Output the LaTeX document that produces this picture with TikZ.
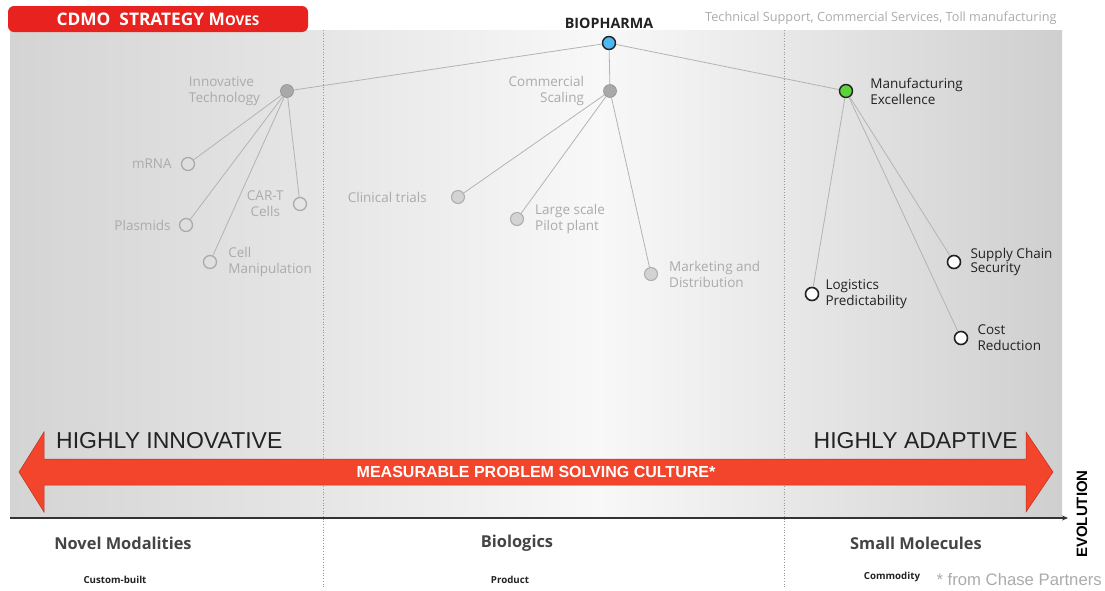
\documentclass[tikz,border=0pt]{standalone}
\usepackage{fontspec}
\setmainfont{Open Sans}
\newfontfamily\arialfont{Liberation Sans}
\usetikzlibrary{positioning,arrows.meta}

\definecolor{cdmored}{HTML}{E8231F}
\definecolor{arrowred}{HTML}{F3452B}
\definecolor{labelgray}{HTML}{ABABAB}
\definecolor{linegray}{HTML}{B3B3B3}
\definecolor{hubgray}{HTML}{A9A9A9}
\definecolor{leafgray}{HTML}{D3D3D3}
\definecolor{darktext}{HTML}{222222}
\definecolor{biotext}{HTML}{444444}
\definecolor{bioblue}{HTML}{4DB8F2}
\definecolor{mfggreen}{HTML}{5BD43C}
\definecolor{axisgray}{HTML}{333333}
\definecolor{panelA}{HTML}{D4D4D4}
\definecolor{panelB}{HTML}{E6E6E6}
\definecolor{panelC}{HTML}{F8F8F8}
\definecolor{panelD}{HTML}{E8E8E8}
\definecolor{panelE}{HTML}{CFCFCF}

\pgfdeclarehorizontalshading{panelshade}{100bp}{%
  color(0bp)=(panelA); color(25bp)=(panelA); color(39.9bp)=(panelB);
  color(53bp)=(panelC); color(61.8bp)=(panelD); color(75bp)=(panelE);
  color(100bp)=(panelE)}

\tikzset{
  lbl/.style={text=labelgray, font=\fontsize{13.5}{16}\selectfont, inner sep=0pt},
  darklbl/.style={lbl, text=darktext},
  edge/.style={draw=linegray, line width=0.8pt},
  dot/.style={circle, minimum size=13pt, inner sep=0pt},
  hubdot/.style={dot, fill=hubgray, draw=hubgray!85!black, line width=0.6pt},
  innleaf/.style={dot, draw=labelgray, line width=1.3pt},
  commleaf/.style={dot, fill=leafgray, draw=labelgray, line width=1pt},
  mfgleaf/.style={dot, fill=white, draw=darktext, line width=1.6pt},
  colhead/.style={font=\fontsize{16.4}{18}\selectfont\bfseries, text=biotext},
  coltag/.style={font=\fontsize{9.7}{11}\selectfont\bfseries, text=darktext},
  divider/.style={draw=gray!80, dotted, line width=0.7pt},
  bigtag/.style={font=\arialfont\fontsize{23}{26}\selectfont, text=darktext, inner sep=0pt}
}

\begin{document}
\begin{tikzpicture}[x=1pt,y=-1pt]
  \useasboundingbox (0,0) rectangle (1105,590);

  % panel and dividers
  \shade[shading=panelshade] (10,30) rectangle (1062,516);
  \draw[divider] (323,30) -- (323,588);
  \draw[divider] (784,30) -- (784,588);

  % title box
  \node[fill=cdmored, rounded corners=6pt, minimum width=300pt, minimum height=26pt,
        text=white, font=\fontsize{17.3}{19}\selectfont\bfseries] (title) at (158,19)
        {CDMO\ \ STRATEGY M{\fontsize{13.5}{15}\selectfont OVES}};

  % tree
  \node[dot, fill=bioblue, draw=darktext, line width=1.4pt] (bio) at (609,43) {};
  \node[font=\fontsize{14.3}{16}\selectfont\bfseries, text=darktext, above=4pt of bio] (biolbl) {BIOPHARMA};
  \node[lbl, font=\fontsize{12.7}{14}\selectfont, anchor=west] (services) at (705,18)
        {Technical Support, Commercial Services, Toll manufacturing};

  \node[hubdot] (innov) at (287,91) {};
  \node[hubdot] (comm) at (610,91) {};
  \node[dot, fill=mfggreen, draw=darktext, line width=1.4pt] (mfg) at (846,91) {};

  \node[innleaf] (mrna) at (188,164) {};
  \node[innleaf] (plasmids) at (186,225) {};
  \node[innleaf] (cellman) at (210,262) {};
  \node[innleaf] (cart) at (300,204) {};

  \node[commleaf] (clinical) at (458,197) {};
  \node[commleaf] (pilot) at (517,219) {};
  \node[commleaf] (mkt) at (651,274) {};

  \node[mfgleaf] (logis) at (812,294) {};
  \node[mfgleaf] (supply) at (954,262) {};
  \node[mfgleaf] (cost) at (961,338) {};

  \foreach \h in {innov,comm,mfg}
    \draw[edge] (bio) -- (\h);
  \foreach \c in {mrna,plasmids,cellman,cart}
    \draw[edge] (innov) -- (\c);
  \foreach \c in {clinical,pilot,mkt}
    \draw[edge] (comm) -- (\c);
  \foreach \c in {logis,supply,cost}
    \draw[edge] (mfg) -- (\c);

  % labels
  \node[lbl, align=left, left=20pt of innov] {Innovative\\Technology};
  \node[lbl, align=right, left=19pt of comm] {Commercial\\Scaling};
  \node[darklbl, align=left, right=17pt of mfg] {Manufacturing\\Excellence};
  \node[lbl, left=9pt of mrna] {mRNA};
  \node[lbl, left=8pt of plasmids] {Plasmids};
  \node[lbl, align=left, right=11pt of cellman] {Cell\\Manipulation};
  \node[lbl, align=center, left=9pt of cart] {CAR-T\\Cells};
  \node[lbl, left=24pt of clinical] {Clinical trials};
  \node[lbl, align=left, right=11pt of pilot] {Large scale\\Pilot plant};
  \node[lbl, align=left, right=11pt of mkt] {Marketing and\\Distribution};
  \node[darklbl, align=left, right=6pt of logis] {Logistics\\Predictability};
  \node[darklbl, align=left, font=\fontsize{13.5}{14}\selectfont, right=9pt of supply] {Supply Chain\\Security};
  \node[darklbl, align=left, right=9pt of cost] {Cost\\Reduction};

  % culture arrow
  \fill[arrowred, draw=arrowred!75!black, line width=0.5pt]
    (19,472) -- (44,432) -- (44,459) -- (1026,459) -- (1026,432) -- (1053,472)
    -- (1026,512) -- (1026,485) -- (44,485) -- (44,512) -- cycle;
  \node[font=\arialfont\fontsize{16}{18}\selectfont\bfseries, text=white] (culture) at (536,472)
        {MEASURABLE PROBLEM SOLVING CULTURE*};
  \node[bigtag, anchor=west] (innovtag) at (56,441) {HIGHLY INNOVATIVE};
  \node[bigtag, anchor=east] (adapttag) at (1018,441) {HIGHLY ADAPTIVE};

  % evolution axis
  \coordinate (axisstart) at (10,518);
  \coordinate (axisend) at (1068,518);
  \draw[axisgray, line width=1.6pt, -{Stealth[length=6pt,width=5pt]}] (axisstart) -- (axisend);
  \node[font=\arialfont\fontsize{15}{16}\selectfont\bfseries, rotate=90] (evolution) at (1082,514) {EVOLUTION};

  % columns
  \node[colhead] (novel) at (123,543) {Novel Modalities};
  \node[colhead] (biologics) at (517,543) {Biologics};
  \node[colhead] (small) at (916,543) {Small Molecules};
  \node[coltag] (custom) at (115,580) {Custom-built};
  \node[coltag] (product) at (510,580) {Product};
  \node[coltag] (commodity) at (892,577) {Commodity};
  \node[font=\arialfont\fontsize{16.7}{18}\selectfont, text=labelgray, anchor=west] (chase) at (933,580)
        {* from Chase Partners};
\end{tikzpicture}
\end{document}
